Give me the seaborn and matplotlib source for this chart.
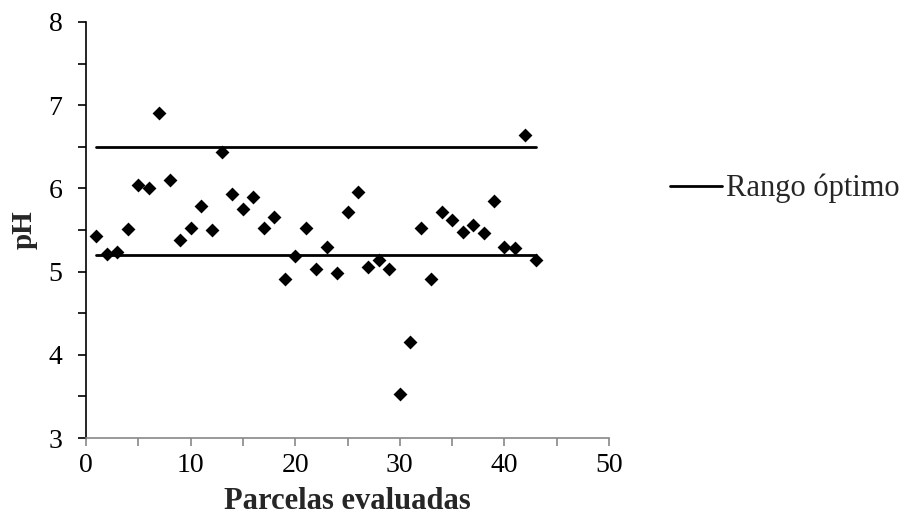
import matplotlib
matplotlib.use("Agg")
import matplotlib.pyplot as plt
import seaborn as sns
import pandas as pd
from matplotlib.ticker import MultipleLocator
from matplotlib.lines import Line2D

sns.set_theme(style="white")
plt.rcParams['font.family'] = ['Liberation Serif', 'DejaVu Serif']

parcelas = list(range(1, 44))
ph = [5.43, 5.21, 5.24, 5.51, 6.04, 6.01, 6.91, 6.10, 5.38, 5.52,
      5.79, 5.50, 6.44, 5.93, 5.75, 5.90, 5.52, 5.66, 4.91, 5.19,
      5.53, 5.03, 5.30, 4.98, 5.72, 5.96, 5.06, 5.14, 5.03, 3.53,
      4.15, 5.53, 4.91, 5.72, 5.62, 5.48, 5.56, 5.46, 5.85, 5.30,
      5.28, 6.64, 5.14]
rango_x = [1, 43]
rango_min = [5.2, 5.2]
rango_max = [6.5, 6.5]

df = pd.DataFrame({"x": parcelas, "ph": ph})

fig = plt.figure(figsize=(9.12, 5.31), dpi=100)
ax = fig.add_axes([0.0943, 0.1751, 0.5735, 0.7835])

sns.lineplot(x=rango_x, y=rango_min, ax=ax, color="black", linewidth=2)
sns.lineplot(x=rango_x, y=rango_max, ax=ax, color="black", linewidth=2)
sns.scatterplot(data=df, x="x", y="ph", ax=ax, marker="D", s=50,
                color="black", edgecolor="black", linewidth=0, zorder=3)

ax.set_xlim(0, 50)
ax.set_ylim(3, 8)
ax.xaxis.set_major_locator(MultipleLocator(10))
ax.xaxis.set_minor_locator(MultipleLocator(5))
ax.yaxis.set_major_locator(MultipleLocator(1))
ax.yaxis.set_minor_locator(MultipleLocator(0.5))
for s in ["top", "right"]:
    ax.spines[s].set_visible(False)
ax.spines["bottom"].set_color("#888888")
ax.spines["bottom"].set_linewidth(1.2)
ax.spines["left"].set_color("black")
ax.spines["left"].set_linewidth(1.2)
ax.tick_params(axis="x", which="both", direction="out", length=6,
               width=1.2, color="#888888", labelsize=20, labelcolor="black",
               bottom=True, pad=5)
ax.tick_params(axis="y", which="both", direction="out", length=6,
               width=1.2, color="black", labelsize=20, labelcolor="black",
               left=True, pad=11)

ax.set_xlabel("Parcelas evaluadas", fontsize=22, fontweight="bold", labelpad=6)
ax.set_ylabel("pH", fontsize=21, fontweight="bold", labelpad=8)

handle = Line2D([0], [0], color="black", linewidth=2)
fig.legend([handle], ["Rango óptimo"], loc="center left",
           bbox_to_anchor=(0.7346, 0.645), frameon=False, fontsize=22,
           handlelength=1.7, handletextpad=0.13, borderpad=0,
           borderaxespad=0)

fig.savefig("out.png", dpi=100)
